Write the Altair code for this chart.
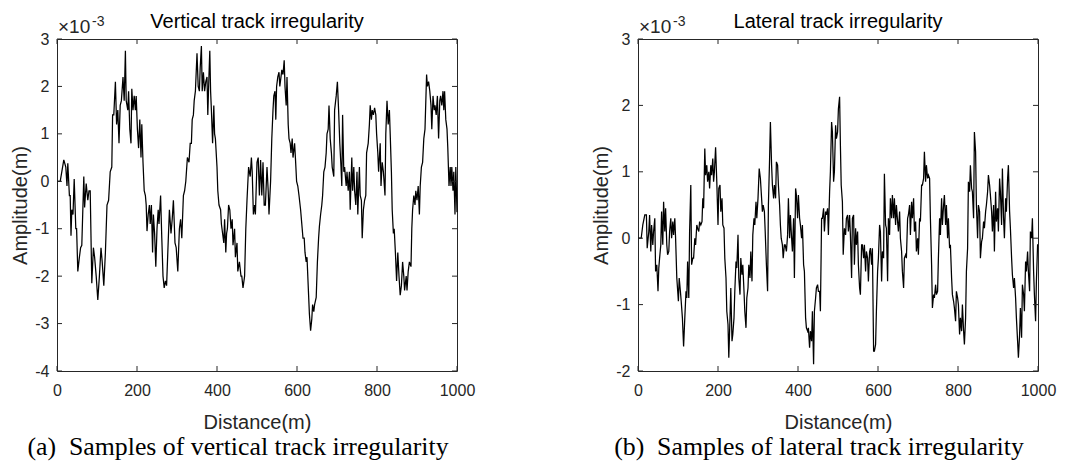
import altair as alt
import pandas as pd

# ---------------- data (amplitudes in units of 1e-3 m) ----------------
vert_dist = [0, 8, 17, 22, 25, 27, 31, 33, 35, 37, 40, 43, 47, 49, 52, 56, 59, 62, 67, 69,
             73, 77, 80, 83, 87, 91, 94, 98, 102, 106, 110, 113, 117, 121, 125, 129, 133, 137, 139, 142,
             146, 149, 152, 155, 158, 161, 165, 168, 171, 173, 177, 179, 182, 185, 187, 190, 193, 196, 198, 201,
             204, 207, 210, 212, 215, 218, 221, 223, 225, 228, 231, 233, 236, 239, 241, 244, 247, 250, 253, 255,
             259, 262, 265, 268, 271, 274, 277, 281, 285, 288, 291, 295, 298, 302, 306, 309, 312, 316, 319, 322,
             326, 330, 333, 336, 338, 341, 343, 346, 350, 353, 356, 358, 361, 363, 366, 369, 372, 375, 377, 380,
             382, 384, 386, 389, 392, 394, 396, 400, 402, 405, 409, 411, 414, 417, 419, 422, 424, 426, 429, 432,
             435, 438, 440, 444, 446, 450, 452, 456, 460, 462, 465, 469, 472, 475, 479, 483, 486, 488, 491, 494,
             496, 500, 503, 506, 509, 512, 515, 518, 521, 525, 528, 530, 534, 537, 540, 542, 545, 547, 549, 552,
             555, 557, 560, 562, 565, 568, 570, 573, 575, 578, 580, 583, 585, 588, 590, 594, 596, 599, 602, 605,
             609, 612, 615, 618, 620, 623, 625, 629, 631, 634, 637, 639, 642, 644, 648, 651, 654, 656, 659, 662,
             664, 667, 670, 673, 675, 678, 680, 683, 686, 688, 692, 694, 698, 701, 704, 707, 710, 712, 714, 717,
             719, 723, 725, 728, 731, 733, 737, 739, 742, 744, 747, 750, 752, 756, 758, 761, 763, 766, 769, 772,
             774, 778, 781, 783, 786, 788, 791, 794, 797, 799, 802, 804, 808, 810, 813, 816, 820, 822, 825, 828,
             831, 833, 836, 838, 841, 843, 846, 849, 852, 855, 858, 861, 864, 867, 869, 873, 875, 878, 881, 885,
             887, 889, 892, 895, 897, 900, 903, 906, 908, 911, 914, 917, 920, 924, 926, 929, 932, 935, 937, 940,
             943, 945, 948, 951, 954, 957, 959, 962, 965, 967, 969, 972, 975, 977, 980, 983, 985, 987, 990, 992,
             995, 997, 1000]
vert_amp = [0, 0, 0.45, 0.3, -0.1, 0.38, -0.3, -0.3, -1.15, -0.6, -0.7, 0.05, -1.0, -1.0, -1.9, -1.6, -1.4, -1.35, 0.1, -0.55,
            -0.05, -0.4, -0.2, -0.2, -2.15, -1.4, -1.6, -2.0, -2.5, -2.0, -1.4, -1.7, -2.2, -1.5, -0.5, -0.4, 0.2, 0.3, 1.4, 1.4,
            2.1, 1.2, 1.5, 0.8, 1.6, 1.7, 2.2, 1.7, 2.75, 1.7, 1.5, 1.9, 1.1, 0.8, 1.95, 1.5, 1.8, 1.5, 1.8, 1.1,
            0.7, 1.3, 0.5, 1.2, 0.4, -0.2, -0.3, -0.5, -1.05, -0.7, -0.5, -0.9, -0.5, -1.5, -0.7, -1.1, -1.8, -1.0, -0.6, -0.9,
            -0.3, -1.2, -2.0, -2.25, -2.1, -2.2, -1.5, -0.6, -1.1, -0.8, -0.4, -1.3, -1.4, -1.9, -1.0, -0.8, -1.2, -0.3, -0.2, 0.0,
            0.5, 0.4, 0.8, 0.8, 1.3, 1.4, 1.7, 1.9, 2.7, 2.0, 1.9, 2.4, 2.85, 1.9, 2.3, 1.9, 2.1, 2.2, 1.4, 2.25,
            2.75, 1.9, 1.5, 0.8, 1.6, 1.0, 0.9, 0.3, -0.2, -0.5, -0.6, -0.9, -1.1, -1.3, -0.8, -1.5, -1.1, -1.0, -0.5, -0.6,
            -1.0, -0.8, -1.35, -1.0, -1.6, -1.3, -1.9, -1.7, -2.0, -2.0, -2.25, -2.0, -1.0, -0.4, 0.3, 0.1, 0.5, 0.2, -0.7, -0.5,
            -0.7, 0.4, 0.5, -0.3, 0.45, -0.3, 0.4, -0.5, -0.5, 0.3, -0.2, -0.7, 0.0, 0.9, 1.5, 1.8, 1.9, 1.3, 2.0, 2.2,
            2.3, 2.0, 2.2, 2.35, 2.25, 2.55, 2.0, 1.6, 2.2, 1.2, 0.9, 0.8, 0.6, 0.9, 0.5, 0.8, 0.5, 0.0, -0.1, -0.3,
            -0.6, -0.9, -1.2, -1.2, -1.5, -1.7, -1.6, -2.4, -2.8, -3.15, -2.9, -2.6, -2.75, -2.6, -2.45, -1.7, -1.2, -0.95, -0.7, -0.5,
            -0.3, 0.2, 0.3, 0.6, 1.0, 1.1, 1.6, 0.9, 0.6, 0.3, 0.1, 1.5, 1.8, 2.1, 1.5, 0.8, 0.3, -0.1, 1.4, 0.2,
            0.3, -0.1, 0.2, -0.2, 0.2, -0.6, 0.5, -0.2, 0.3, -0.2, -0.5, 0.2, -0.7, 0.3, -0.3, -0.4, -1.2, -0.6, -0.4, -0.3,
            0.6, 0.8, 1.2, 1.6, 1.3, 1.5, 1.4, 1.55, 1.4, 1.0, 0.6, 0.2, 0.8, -0.1, 0.4, 0.2, -0.3, 1.0, 1.7, 1.2,
            1.5, 1.0, 0.2, -0.6, -1.1, -1.0, -1.5, -2.1, -1.5, -2.0, -2.4, -2.2, -1.7, -2.0, -2.3, -2.0, -2.3, -1.9, -1.7, -1.8,
            -1.0, -0.6, -0.3, -0.5, -0.2, -0.4, -0.1, -0.7, -0.1, 0.3, 0.4, 0.9, 1.1, 2.25, 2.0, 2.1, 1.9, 1.6, 1.1, 1.8,
            1.5, 1.6, 1.4, 1.8, 0.9, 1.7, 1.8, 1.6, 1.9, 1.5, 1.9, 1.3, 1.1, 0.7, -0.1, 0.3, -0.1, 0.3, -0.2, 0.2,
            -0.7, 0.3, -0.65]

lat_dist = [0, 8, 12, 17, 21, 23, 27, 29, 32, 34, 37, 39, 42, 44, 47, 50, 52, 54, 57, 59,
            62, 64, 67, 69, 72, 74, 77, 79, 82, 84, 87, 89, 92, 94, 97, 101, 103, 106, 108, 111,
            114, 117, 120, 122, 124, 127, 129, 132, 134, 137, 139, 142, 144, 147, 149, 152, 154, 157, 160, 162,
            164, 167, 169, 172, 174, 177, 179, 182, 184, 187, 189, 191, 194, 197, 200, 202, 205, 207, 210, 212,
            215, 217, 220, 222, 225, 227, 230, 232, 235, 237, 240, 242, 245, 247, 250, 252, 255, 257, 260, 262,
            265, 267, 270, 272, 275, 277, 280, 282, 285, 287, 290, 292, 295, 297, 300, 303, 306, 308, 311, 313,
            316, 318, 321, 324, 326, 329, 331, 334, 336, 339, 341, 344, 346, 349, 351, 354, 356, 358, 361, 363,
            366, 368, 371, 374, 376, 379, 381, 384, 386, 389, 391, 394, 396, 399, 401, 404, 406, 409, 411, 414,
            416, 419, 421, 424, 426, 429, 431, 434, 436, 439, 441, 444, 446, 449, 451, 454, 456, 459, 461, 464,
            466, 469, 471, 474, 476, 479, 481, 484, 486, 489, 491, 494, 496, 499, 501, 504, 506, 508, 511, 513,
            516, 519, 521, 524, 526, 529, 531, 534, 536, 539, 541, 544, 546, 549, 551, 554, 556, 559, 561, 564,
            566, 569, 571, 574, 576, 579, 581, 584, 586, 589, 591, 594, 596, 599, 601, 604, 606, 609, 611, 614,
            616, 619, 621, 624, 626, 629, 631, 634, 636, 639, 641, 644, 646, 649, 651, 654, 656, 659, 661, 664,
            666, 669, 671, 674, 676, 679, 681, 684, 686, 689, 691, 694, 696, 699, 701, 704, 706, 709, 711, 714,
            716, 719, 721, 724, 726, 729, 731, 734, 736, 739, 741, 744, 746, 749, 751, 754, 756, 759, 761, 764,
            766, 769, 771, 774, 776, 779, 781, 784, 786, 789, 791, 794, 796, 799, 801, 804, 806, 809, 811, 814,
            816, 819, 821, 824, 826, 829, 831, 834, 836, 839, 841, 844, 846, 849, 851, 854, 856, 859, 861, 864,
            866, 869, 871, 874, 876, 879, 881, 884, 886, 889, 891, 894, 896, 899, 901, 904, 906, 909, 911, 914,
            916, 919, 921, 924, 926, 929, 931, 934, 936, 939, 941, 944, 946, 949, 951, 954, 956, 959, 961, 964,
            966, 969, 971, 974, 976, 979, 981, 984, 986, 989, 991, 994, 996, 999, 1000]
lat_amp = [0, 0, 0.2, 0.35, 0.35, -0.15, 0.1, 0.35, -0.2, 0.2, -0.1, 0.1, 0.3, -0.5, -0.4, -0.8, -0.45, -0.3, -0.1, 0.4,
           -0.1, 0.55, 0.1, 0.45, -0.1, -0.25, -0.2, 0.1, 0.3, 0.0, 0.25, 0.05, 0.3, 0.0, -0.6, -0.95, -0.6, -0.8, -0.95, -1.2,
           -1.63, -1.2, -0.8, -0.9, -0.35, -0.9, 0.1, 0.8, -0.4, -0.3, -0.3, 0.0, -0.1, 0.2, 0.15, 0.1, 0.25, 0.2, 0.25, 0.6,
           0.45, 1.35, 0.95, 1.1, 0.85, 1.0, 0.75, 1.1, 0.95, 1.2, 0.85, 1.0, 1.37, 0.85, 0.2, 0.75, 0.8, 0.4, 0.6, 0.2,
           0.15, -0.3, -0.6, -1.1, -1.3, -1.8, -1.2, -0.75, -1.55, -1.45, -1.2, -0.8, -0.35, -0.45, 0.05, -0.6, -0.85, -0.3, -0.55, -0.4,
           -0.8, -1.1, -1.35, -0.9, -0.75, -0.4, -0.6, -0.2, -0.65, 0.05, 0.3, 0.2, 0.55, 0.3, 0.6, 1.05, 0.9, 0.7, 0.4, 0.5,
           0.4, 0.1, -0.4, -0.8, 0.5, 1.2, 1.75, 1.1, 0.8, 0.6, 0.8, 0.6, 1.15, 1.1, 0.8, 0.5, 0.2, 0.0, -0.1, -0.3,
           -0.1, -0.1, -0.2, 0.05, 0.6, 0.0, 0.35, 0.0, -0.2, 0.3, -0.6, 0.75, 0.65, 0.3, 0.65, 0.3, 0.2, 0.0, 0.2, -0.4,
           -0.5, -1.2, -1.35, -1.4, -1.35, -1.65, -1.4, -1.55, -1.1, -1.9, -1.1, -0.9, -0.75, -0.7, -0.8, -0.8, -1.1, 0.3, 0.3, 0.45,
           0.1, 0.4, 0.35, 0.45, 0.05, 0.7, 1.0, 1.75, 1.6, 0.85, 1.0, 1.7, 1.5, 1.6, 1.95, 2.13, 1.4, 0.8, 0.55, -0.25,
           0.15, 0.05, 0.3, 0.35, 0.1, 0.35, 0.05, -0.6, 0.3, 0.35, -0.4, 0.15, -0.1, 0.1, -0.4, -0.75, -0.85, -0.1, -0.1, -0.3,
           -0.1, -0.5, -0.2, -0.3, -0.65, -0.2, -0.15, -0.4, -0.15, -1.7, -1.7, -1.6, -1.1, -0.5, -0.3, 0.2, 0.1, -0.65, -0.2, -0.3,
           0.97, 0.2, 0.15, -0.65, 0.3, 0.05, 0.6, 0.3, 0.65, 0.3, 0.6, 0.2, 0.5, 0.25, 0.1, 0.4, 0.0, -0.2, -0.5, -0.75,
           -0.3, -0.25, -0.3, 0.3, 0.35, 0.5, 0.05, 0.55, 0.3, 0.6, 0.1, 0.25, -0.2, 0.0, -0.25, 0.3, 0.25, 0.8, 0.8, 0.9,
           1.3, 0.85, 1.1, 0.9, 0.95, 0.9, 0.3, -0.4, -1.05, -0.85, -0.9, -0.7, -0.85, -0.8, -0.3, 0.3, 0.05, 0.6, 0.2, 0.5,
           0.65, 0.2, 0.5, 0.0, 0.3, -0.15, -0.1, -0.6, -0.85, -0.95, -1.05, -1.25, -0.8, -0.9, -1.0, -1.45, -1.2, -1.4, -1.0, -1.4,
           -1.6, -1.2, -0.5, -0.15, 0.85, 0.7, 1.1, 0.75, 0.7, 0.3, 1.6, 1.3, 0.5, 0.0, 0.5, 0.4, -0.3, -0.05, 0.0, 0.25,
           0.15, 0.4, 0.5, 0.7, 0.95, 0.8, 0.65, 0.4, 0.1, 0.5, -0.2, 0.7, 0.25, 0.45, 0.1, 0.9, 0.7, 0.2, 1.05, 0.3,
           0.0, 0.6, 0.4, 0.9, 1.1, 0.4, 0.15, -0.3, -0.55, -0.75, -0.6, -0.9, -1.2, -1.55, -1.8, -1.45, -1.05, -1.5, -0.7, -0.85,
           -1.1, -0.35, -0.5, -0.2, -0.5, -0.8, 0.1, 0.0, 0.3, -0.5, -0.85, -1.25, -0.65, -0.1, -0.1]

x_ticks = [0, 200, 400, 600, 800, 1000]
vert_y_ticks = [-4, -3, -2, -1, 0, 1, 2, 3]
lat_y_ticks = [-2, -1, 0, 1, 2, 3]

titles = ["Vertical track irregularity", "Lateral track irregularity"]
captions = ["(a)\u00a0\u00a0Samples of vertical track irregularity",
            "(b)\u00a0\u00a0Samples of lateral track irregularity"]

assert len(vert_dist) == len(vert_amp)
assert len(lat_dist) == len(lat_amp)

AX = "#262626"
SANS = "Liberation Sans"
SERIF = "Liberation Serif"
W, H = 400, 332


def label(text, **mark):
    return alt.Chart(pd.DataFrame({"t": [text]})).mark_text(**mark)


def panel(dist, amp, yticks, title, caption):
    df = pd.DataFrame({"d": dist, "v": amp})
    xs = alt.Scale(domain=[0, 1000], nice=False, zero=False)
    ys = alt.Scale(domain=[yticks[0], yticks[-1]], nice=False, zero=False)
    xaxis = alt.Axis(values=x_ticks, title="Distance(m)", labelExpr="'' + datum.value",
                     labelPadding=11, titlePadding=14)
    yaxis = alt.Axis(values=yticks, title="Amplitude(m)", labelExpr="'' + datum.value")
    X = alt.X("d:Q", scale=xs, axis=xaxis)
    Y = alt.Y("v:Q", scale=ys, axis=yaxis)

    line = alt.Chart(df).mark_line(color="black", strokeWidth=1.25).encode(x=X, y=Y)

    xt = pd.DataFrame({"d": x_ticks})
    yt = pd.DataFrame({"v": yticks})
    tb = alt.Chart(xt).mark_rule(color=AX, strokeWidth=1).encode(x=X, y=alt.value(H), y2=alt.value(H - 5))
    tt = alt.Chart(xt).mark_rule(color=AX, strokeWidth=1).encode(x=X, y=alt.value(0), y2=alt.value(5))
    tl = alt.Chart(yt).mark_rule(color=AX, strokeWidth=1).encode(y=Y, x=alt.value(0), x2=alt.value(5))
    tr = alt.Chart(yt).mark_rule(color=AX, strokeWidth=1).encode(y=Y, x=alt.value(W), x2=alt.value(W - 5))

    ttl = label(title, align="center", baseline="alphabetic", font=SANS, fontSize=20, color="black").encode(
        x=alt.value(W / 2), y=alt.value(-11), text="t:N")
    exp_base = label("\u00d710", align="left", baseline="alphabetic", font=SANS, fontSize=19, color=AX).encode(
        x=alt.value(1), y=alt.value(-6), text="t:N")
    exp_sup = label("-3", align="left", baseline="alphabetic", font=SANS, fontSize=14, color=AX).encode(
        x=alt.value(35), y=alt.value(-13), text="t:N")
    cap = label(caption, align="center", baseline="middle", font=SERIF, fontSize=25.8, color="black").encode(
        x=alt.value(181), y=alt.value(408), text="t:N")

    return alt.layer(line, tb, tt, tl, tr, ttl, exp_base, exp_sup, cap).properties(width=W, height=H)


left = panel(vert_dist, vert_amp, vert_y_ticks, titles[0], captions[0])
right = panel(lat_dist, lat_amp, lat_y_ticks, titles[1], captions[1])

chart = alt.hconcat(left, right, spacing=181, bounds="flush").properties(
    padding={"left": 10, "top": 11, "right": 5, "bottom": 5},
    background="white",
).configure_view(stroke=AX, strokeWidth=1).configure_axis(
    domain=False, ticks=False, grid=False,
    labelFont=SANS, labelFontSize=16, labelColor=AX, labelPadding=8,
    labelFlush=False, labelOverlap=False,
    titleFont=SANS, titleFontSize=20, titleColor=AX, titleFontWeight="normal",
    titlePadding=4,
)

chart.save("out.html", embed_options={"renderer": "svg", "actions": False})
